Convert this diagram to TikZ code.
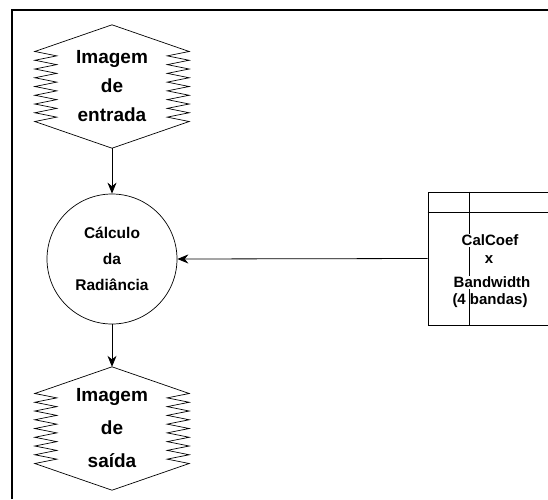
\documentclass[tikz,border=0pt]{standalone}
\usepackage{fontspec}
\setmainfont{Liberation Sans}
\usetikzlibrary{arrows.meta,calc}

% zigzag-sided outline round an (invisible) image node
\newcommand{\zigoutline}[1]{%
  \draw[zig] (#1.north) -- ($(#1.west)+(0,-35)$)
    \foreach \k in {1,...,8}{ -- ++(22,4.375) -- ++(-22,4.375) }
    -- (#1.south) -- ($(#1.east)+(0,35)$)
    \foreach \k in {1,...,8}{ -- ++(-22,-4.375) -- ++(22,-4.375) }
    -- cycle;}

\begin{document}
\begin{tikzpicture}[
  x=1pt, y=-1pt,
  every node/.style={font=\bfseries},
  zig/.style={line width=0.7pt},
  imgbox/.style={rectangle,minimum width=154pt,minimum height=123pt,inner sep=0pt,align=center},
  proc/.style={circle,draw,line width=0.7pt,minimum size=130pt,inner sep=0pt,align=center,
               font=\bfseries\fontsize{15.5}{26}\selectfont},
  tabbox/.style={rectangle,draw,line width=0.7pt,minimum width=140pt,minimum height=133pt,inner sep=0pt},
  tabtxt/.style={inner sep=1pt,font=\bfseries\fontsize{15}{18}\selectfont},
  arr/.style={-{Stealth[length=11pt,width=9pt]},line width=0.8pt}
]
\useasboundingbox (0,0) rectangle (548,499);
\clip (0,0) rectangle (548,499);
\draw[line width=2.3pt] (12,499) -- (12,10) -- (548,10);

\node[imgbox,font=\bfseries\fontsize{19}{29}\selectfont]
   (entrada) at (112,86.5) {Imagem\\de\\entrada};
\zigoutline{entrada}
\node[proc] (calc) at (112,259) {Cálculo\\da\\Radiância};
\node[imgbox,font=\bfseries\fontsize{19}{33}\selectfont]
   (saida) at (112,428.5) {Imagem\\de\\saída};
\zigoutline{saida}

\node[tabbox] (coef) at (498,258.5) {};
\draw[line width=0.7pt] ($(coef.north west)+(0,21)$) -- ($(coef.north east)+(0,21)$);
\draw[line width=0.7pt] ($(coef.north west)+(42,0)$) -- ($(coef.south west)+(42,0)$);
\node[tabtxt,fill=white] (coefA) at (490,240) {CalCoef};
\node[tabtxt] (coefB) at (489,260) {x};
\node[tabtxt,fill=white] (coefC) at (492,282) {Bandwidth};
\node[tabtxt] (coefD) at (490,301) {(4 bandas)};

\draw[arr] (entrada.south) -- (calc.north);
\draw[arr] (calc.south) -- (saida.north);
\draw[arr] (coef.west) -- (calc.east);
\end{tikzpicture}
\end{document}
